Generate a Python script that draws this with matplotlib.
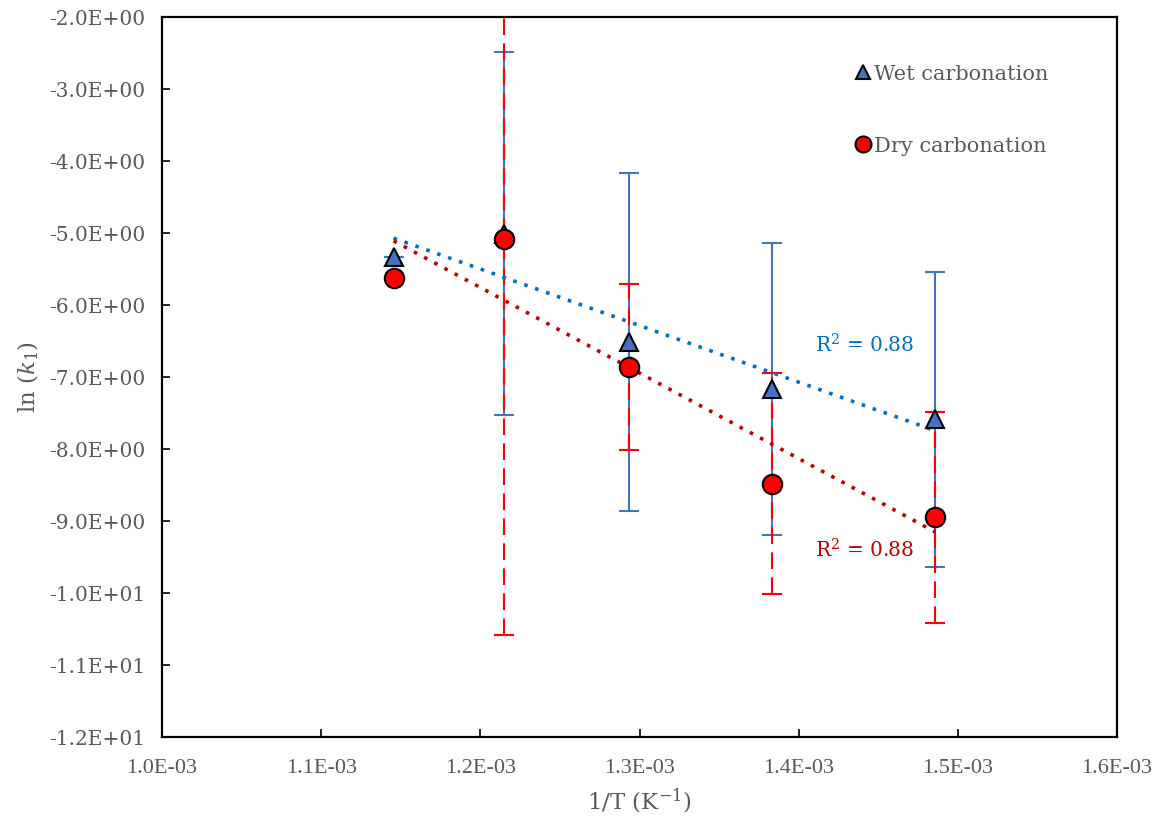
import numpy as np
import matplotlib
matplotlib.use("Agg")
import matplotlib.pyplot as plt
from matplotlib.ticker import FuncFormatter
from matplotlib.lines import Line2D

plt.rcParams['font.family'] = ['DejaVu Serif']
plt.rcParams['mathtext.fontset'] = 'dejavuserif'

# Data
temps_K = [873, 823, 773, 723, 673]
inv_T = [1.0 / t for t in temps_K]
wet_lnk = [-5.33, -5.01, -6.51, -7.17, -7.59]
wet_err = [0.0, 2.52, 2.35, 2.03, 2.05]
dry_lnk = [-5.63, -5.08, -6.86, -8.48, -8.95]
dry_err = [0.0, 5.50, 1.15, 1.53, 1.47]
r2_wet = "0.88"
r2_dry = "0.88"

x = np.array(inv_T)
gray = '#595959'

fig = plt.figure(figsize=(11.54, 8.22), dpi=100)
ax = fig.add_axes([0.1404, 0.1034, 0.968 - 0.1404, 0.9793 - 0.1034])

# error bars (wet first, dry dashed on top)
ax.errorbar(x, wet_lnk, yerr=wet_err, fmt='none', ecolor='#4472C4',
            elinewidth=1.5, capsize=7, capthick=1.5, zorder=2)
eb = ax.errorbar(x, dry_lnk, yerr=dry_err, fmt='none', ecolor='#FF0000',
                 elinewidth=1.5, capsize=7, capthick=1.5, zorder=3)
for lc in eb[2]:
    lc.set_linestyle((0, (8, 4)))

# trendlines
for yv, col in [(wet_lnk, '#0070C0'), (dry_lnk, '#C00000')]:
    p = np.polyfit(x, yv, 1)
    xx = np.array([x.min(), x.max()])
    ax.plot(xx, np.polyval(p, xx), linestyle=(0, (1, 2.2)), color=col,
            linewidth=2.6, zorder=4)

# markers
ax.plot(x, wet_lnk, linestyle='none', marker='^', markersize=13.5,
        markerfacecolor='#4472C4', markeredgecolor='black', markeredgewidth=1.5, zorder=5)
ax.plot(x, dry_lnk, linestyle='none', marker='o', markersize=14,
        markerfacecolor='#FF0000', markeredgecolor='black', markeredgewidth=1.5, zorder=6)

ax.text(1.410e-3, -6.56, r'R$^2$ = ' + r2_wet, color='#0070C0', fontsize=14.5,
        ha='left', va='center')
ax.text(1.410e-3, -9.40, r'R$^2$ = ' + r2_dry, color='#C00000', fontsize=14.5,
        ha='left', va='center')

ax.set_xlim(1.0e-3, 1.6e-3)
ax.set_ylim(-12, -2)
ax.set_xticks(np.arange(1.0e-3, 1.6001e-3, 1e-4))
ax.set_yticks(np.arange(-12, -1.999, 1))
ax.xaxis.set_major_formatter(FuncFormatter(lambda v, p: f"{v:.1E}"))
ax.yaxis.set_major_formatter(FuncFormatter(lambda v, p: f"{v:.1E}"))
ax.tick_params(direction='in', length=6, width=1.2, colors='black',
               labelcolor=gray, labelsize=14.5)
ax.tick_params(axis='x', pad=16, labelfontfamily='Liberation Serif', labelsize=16)
ax.tick_params(axis='y', pad=12)
for s in ax.spines.values():
    s.set_linewidth(1.6)
    s.set_color('black')

ax.set_xlabel(r'1/T (K$^{-1}$)', color=gray, fontsize=16.5, labelpad=6)
ax.set_ylabel(r'ln ($k_1$)', color=gray, fontsize=16.5, labelpad=6)

handles = [Line2D([], [], linestyle='none', marker='^', markersize=10.5,
                  markerfacecolor='#4472C4', markeredgecolor='black', markeredgewidth=1.5),
           Line2D([], [], linestyle='none', marker='o', markersize=11.5,
                  markerfacecolor='#FF0000', markeredgecolor='black', markeredgewidth=1.5)]
leg = ax.legend(handles, ['Wet carbonation', 'Dry carbonation'], loc='upper left',
                bbox_to_anchor=(0.703, 0.96), frameon=False, fontsize=15,
                labelspacing=2.55, handletextpad=0.05, handlelength=1.0)
for t in leg.get_texts():
    t.set_color(gray)

fig.savefig('out.png', dpi=100)
